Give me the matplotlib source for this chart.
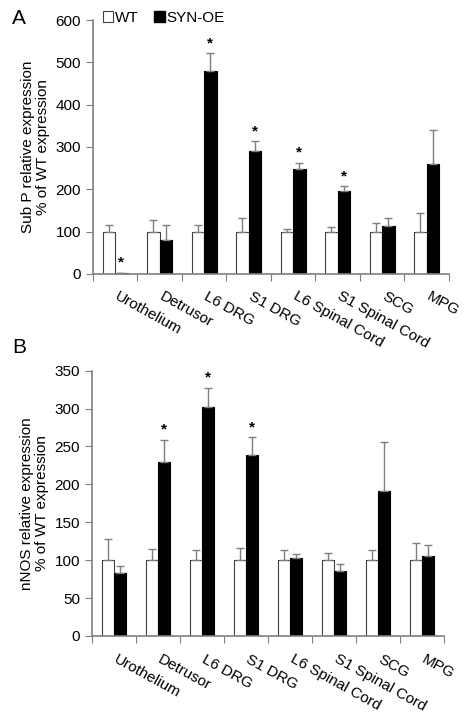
import numpy as np
import matplotlib.pyplot as plt
from matplotlib.patches import Patch

plt.rcParams['font.family'] = ['Liberation Sans', 'DejaVu Sans']

tissues = ["Urothelium", "Detrusor", "L6 DRG", "S1 DRG",
           "L6 Spinal Cord", "S1 Spinal Cord", "SCG", "MPG"]

# panel A: Sub P
subp_wt = [100, 100, 100, 100, 100, 100, 100, 100]
subp_wt_err = [16, 27, 16, 31, 6, 10, 21, 43]
subp_oe = [2, 81, 480, 290, 248, 196, 114, 260]
subp_oe_err = [1, 34, 41, 24, 15, 11, 18, 79]
subp_sig = [True, False, True, True, True, True, False, False]

# panel B: nNOS
nnos_wt = [100, 100, 100, 100, 100, 100, 100, 100]
nnos_wt_err = [28, 15, 13, 16, 14, 9, 14, 23]
nnos_oe = [83, 229, 302, 239, 103, 86, 191, 106]
nnos_oe_err = [9, 30, 25, 23, 5, 9, 65, 14]
nnos_sig = [False, True, True, True, False, False, False, False]

GREY = "#7f7f7f"


def draw_panel(ax, wt, wt_err, oe, oe_err, sig, ymax, ystep, ylabel):
    x = np.arange(len(tissues)) + 0.5
    w = 0.28
    ax.bar(x - w / 2, wt, w, color="white", edgecolor="#404040", linewidth=0.8,
           yerr=[np.zeros(len(wt)), wt_err], ecolor=GREY,
           error_kw=dict(elinewidth=1, capsize=3, capthick=1))
    ax.bar(x + w / 2, oe, w, color="black", edgecolor="black", linewidth=0.8,
           yerr=[np.zeros(len(oe)), oe_err], ecolor=GREY,
           error_kw=dict(elinewidth=1, capsize=3, capthick=1))
    for xi, v, e, s in zip(x, oe, oe_err, sig):
        if s:
            ax.text(xi + w / 2, v + e + ymax * 0.012, "*", ha="center",
                    va="bottom", fontsize=11, fontweight="bold")
    ax.set_xlim(0, len(tissues))
    ax.set_ylim(0, ymax)
    ax.set_yticks(np.arange(0, ymax + 1, ystep))
    ax.set_xticks(np.arange(len(tissues) + 1))
    ax.set_xticklabels([])
    ax.tick_params(axis="x", direction="out", length=5, color=GREY)
    ax.tick_params(axis="y", direction="out", length=5, color=GREY,
                   labelsize=11)
    for sp in ["top", "right"]:
        ax.spines[sp].set_visible(False)
    for sp in ["left", "bottom"]:
        ax.spines[sp].set_color(GREY)
        ax.spines[sp].set_linewidth(1.2)
    for xi, lab in zip(x, tissues):
        ax.text(xi + 0.1, -0.06, lab, transform=ax.get_xaxis_transform(),
                rotation=-29, rotation_mode="anchor", ha="left", va="top",
                fontsize=11)
    ax.set_ylabel(ylabel, fontsize=11, linespacing=1.1, labelpad=4)


fig = plt.figure(figsize=(4.74, 7.17), dpi=100)
ax1 = fig.add_axes([0.196, 0.618, 0.751, 0.354])
ax2 = fig.add_axes([0.194, 0.113, 0.743, 0.370])

draw_panel(ax1, subp_wt, subp_wt_err, subp_oe, subp_oe_err, subp_sig,
           600, 100, "Sub P relative expression\n% of WT expression")
draw_panel(ax2, nnos_wt, nnos_wt_err, nnos_oe, nnos_oe_err, nnos_sig,
           350, 50, "nNOS relative expression\n% of WT expression")

handles = [Patch(facecolor="white", edgecolor="#404040", linewidth=0.8),
           Patch(facecolor="black", edgecolor="black")]
ax1.legend(handles, ["WT", "SYN-OE"], loc="upper left", ncol=2,
           bbox_to_anchor=(0.01, 1.06), frameon=False, fontsize=11,
           handlelength=0.7, handleheight=0.7, handletextpad=0.1,
           columnspacing=1.0, borderaxespad=0)

fig.text(0.025, 0.988, "A", fontsize=15, va="top")
fig.text(0.025, 0.528, "B", fontsize=15, va="top")

fig.savefig("out.png", dpi=100)
